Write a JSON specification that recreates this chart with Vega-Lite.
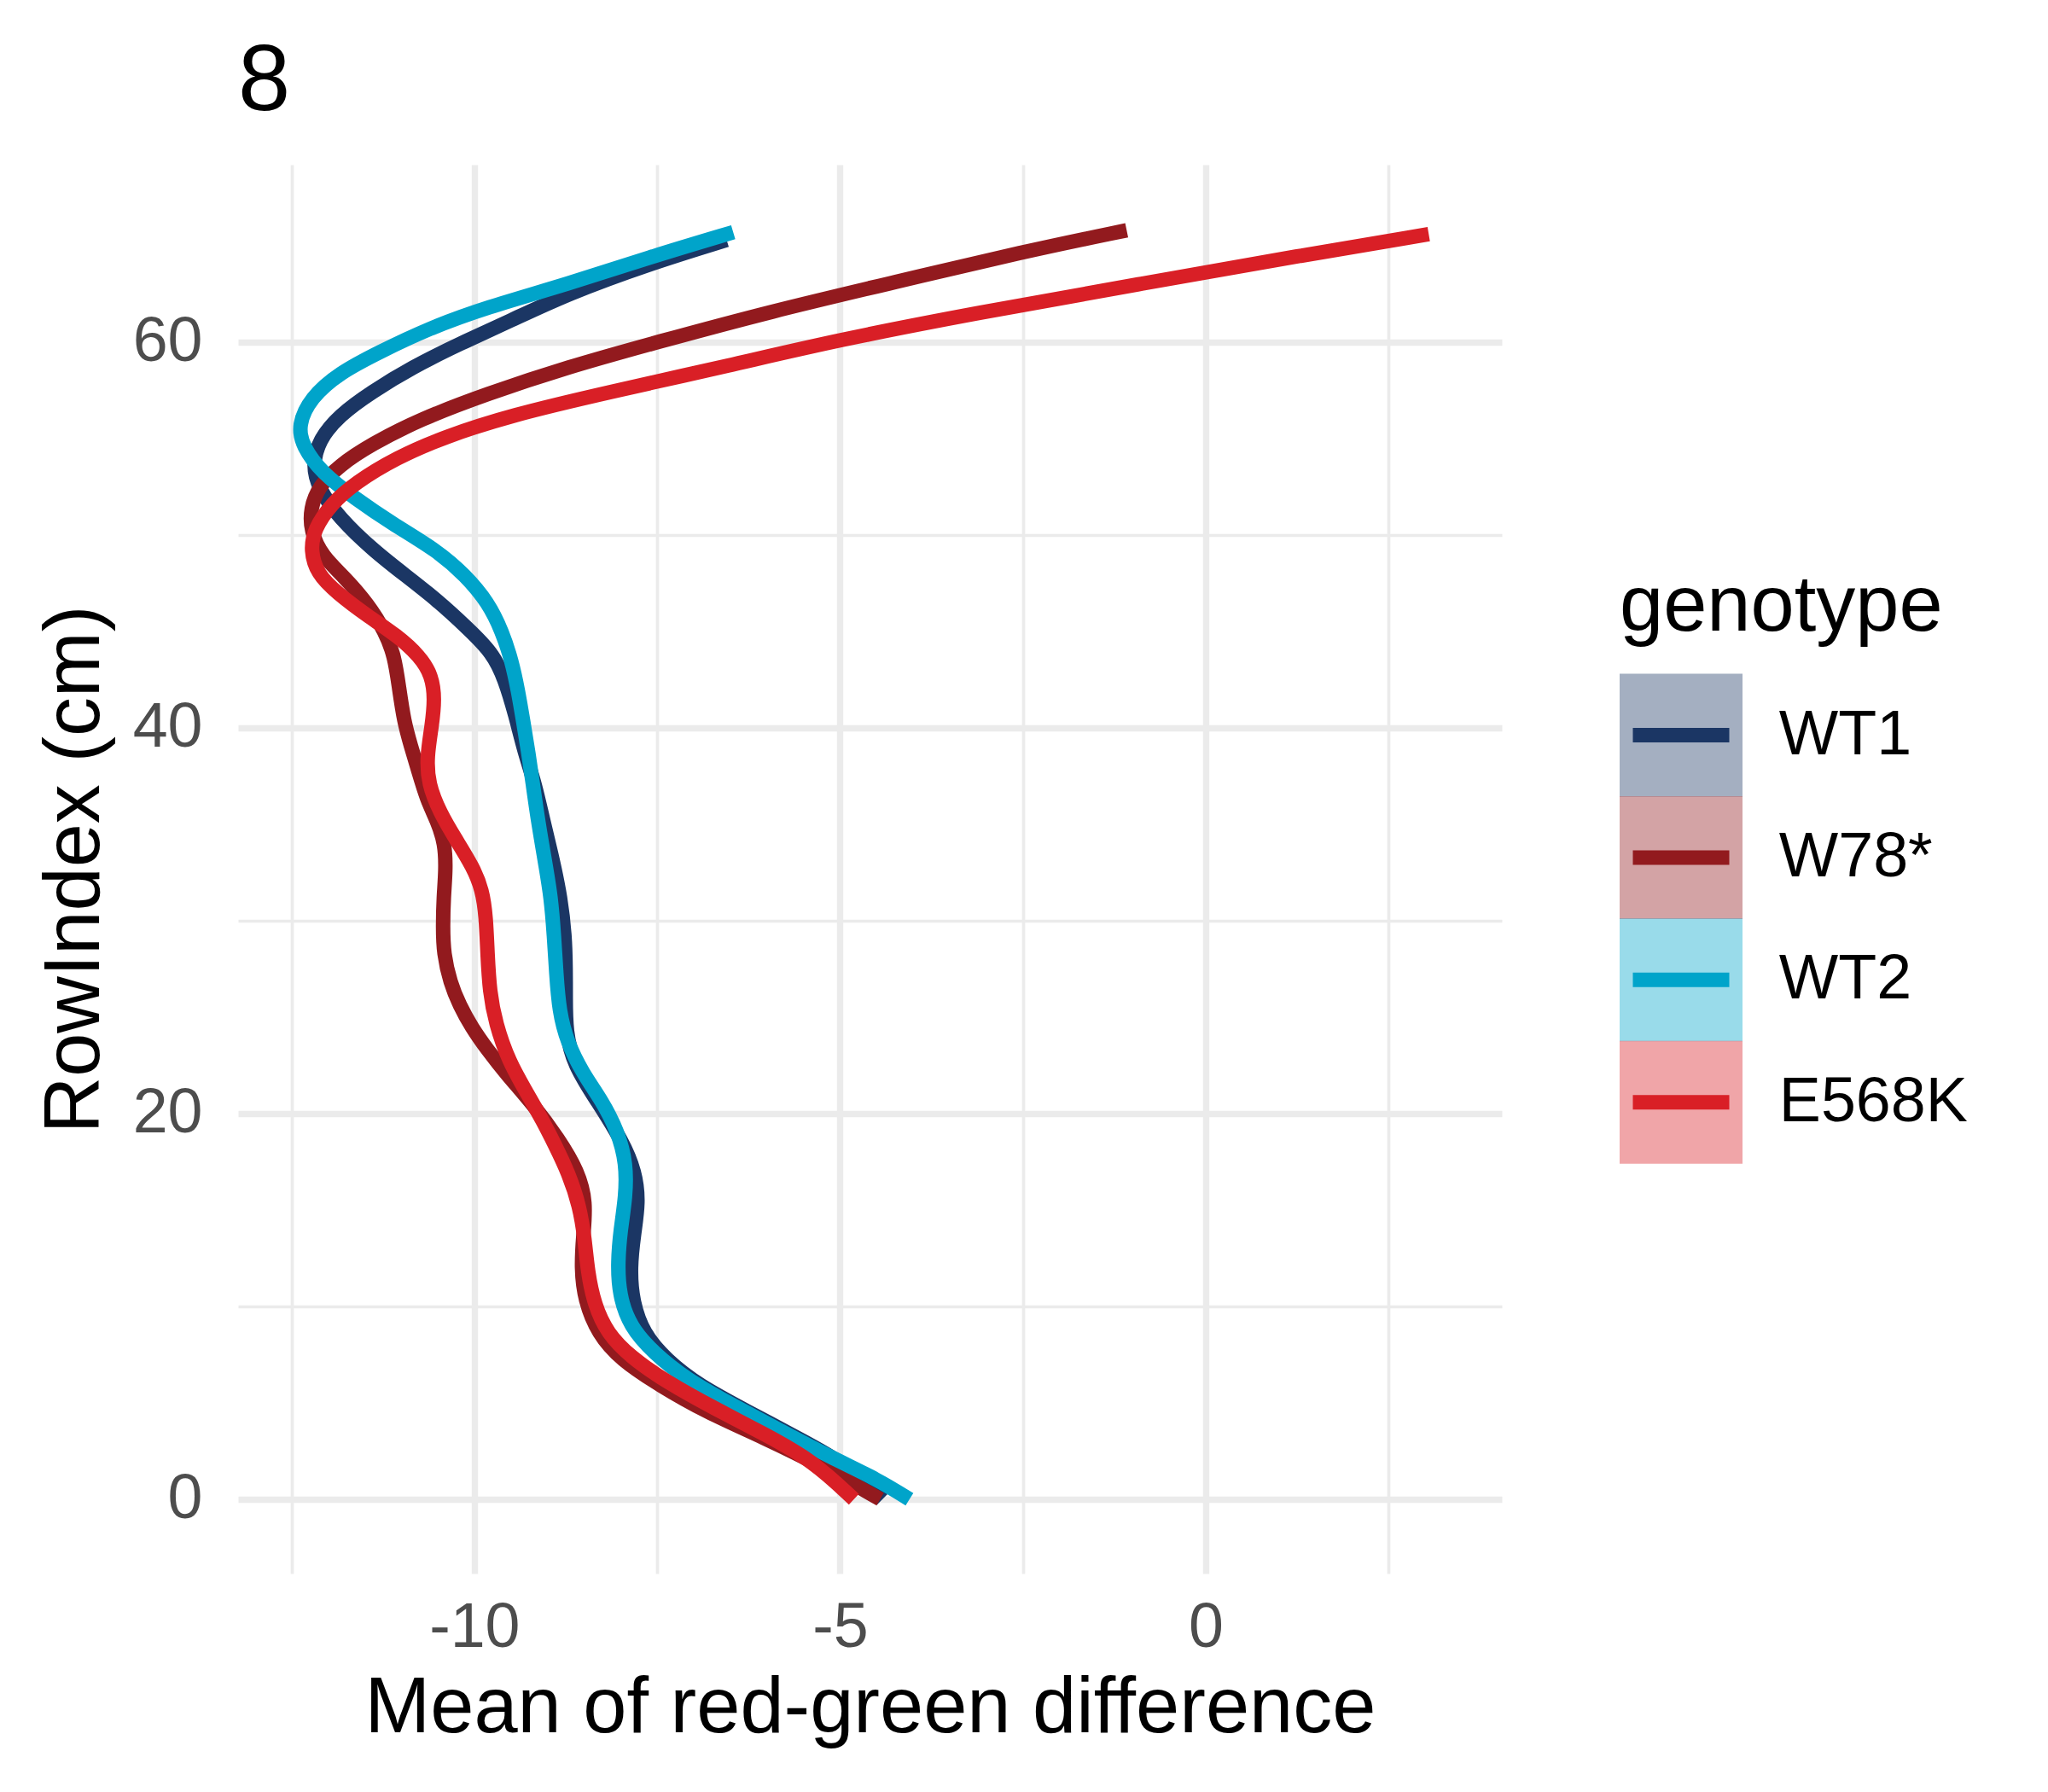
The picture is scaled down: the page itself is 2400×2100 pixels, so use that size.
{
  "$schema": "https://vega.github.io/schema/vega-lite/v6.json",
  "width": 1481,
  "height": 1651,
  "autosize": {"type": "none"},
  "padding": {"left": 279, "top": 193, "right": 640, "bottom": 256},
  "background": "white",
  "config": {"view": {"stroke": null}, "font": "Liberation Sans"},
  "title": {"text": "8", "anchor": "start", "frame": "group", "fontSize": 110, "fontWeight": "normal", "color": "black", "font": "Liberation Sans", "baseline": "bottom", "offset": -69},
  "datasets": {
    "curves": [
      {"genotype":"WT1","RowIndex":0,"mean_diff":-4.42},{"genotype":"WT1","RowIndex":1.85,"mean_diff":-4.92},{"genotype":"WT1","RowIndex":3.2,"mean_diff":-5.59},{"genotype":"WT1","RowIndex":4.55,"mean_diff":-6.26},{"genotype":"WT1","RowIndex":5.9,"mean_diff":-6.93},{"genotype":"WT1","RowIndex":7.25,"mean_diff":-7.38},{"genotype":"WT1","RowIndex":8.6,"mean_diff":-7.69},{"genotype":"WT1","RowIndex":10.3,"mean_diff":-7.84},{"genotype":"WT1","RowIndex":12,"mean_diff":-7.87},{"genotype":"WT1","RowIndex":13.7,"mean_diff":-7.82},{"genotype":"WT1","RowIndex":15.4,"mean_diff":-7.75},{"genotype":"WT1","RowIndex":17,"mean_diff":-7.8},{"genotype":"WT1","RowIndex":18.6,"mean_diff":-7.98},{"genotype":"WT1","RowIndex":20.6,"mean_diff":-8.31},{"genotype":"WT1","RowIndex":22.5,"mean_diff":-8.64},{"genotype":"WT1","RowIndex":24.3,"mean_diff":-8.75},{"genotype":"WT1","RowIndex":26,"mean_diff":-8.75},{"genotype":"WT1","RowIndex":27.5,"mean_diff":-8.75},{"genotype":"WT1","RowIndex":29.2,"mean_diff":-8.76},{"genotype":"WT1","RowIndex":31.2,"mean_diff":-8.82},{"genotype":"WT1","RowIndex":33.2,"mean_diff":-8.93},{"genotype":"WT1","RowIndex":35.2,"mean_diff":-9.06},{"genotype":"WT1","RowIndex":37.1,"mean_diff":-9.17},{"genotype":"WT1","RowIndex":38.7,"mean_diff":-9.31},{"genotype":"WT1","RowIndex":40.7,"mean_diff":-9.44},{"genotype":"WT1","RowIndex":42.5,"mean_diff":-9.58},{"genotype":"WT1","RowIndex":43.9,"mean_diff":-9.75},{"genotype":"WT1","RowIndex":45.2,"mean_diff":-10.1},{"genotype":"WT1","RowIndex":46.6,"mean_diff":-10.5},{"genotype":"WT1","RowIndex":47.9,"mean_diff":-10.94},{"genotype":"WT1","RowIndex":49.2,"mean_diff":-11.38},{"genotype":"WT1","RowIndex":50.9,"mean_diff":-11.85},{"genotype":"WT1","RowIndex":52.4,"mean_diff":-12.13},{"genotype":"WT1","RowIndex":53.6,"mean_diff":-12.21},{"genotype":"WT1","RowIndex":54.9,"mean_diff":-12.13},{"genotype":"WT1","RowIndex":56.2,"mean_diff":-11.85},{"genotype":"WT1","RowIndex":57.4,"mean_diff":-11.41},{"genotype":"WT1","RowIndex":58.7,"mean_diff":-10.85},{"genotype":"WT1","RowIndex":59.95,"mean_diff":-10.18},{"genotype":"WT1","RowIndex":61.1,"mean_diff":-9.51},{"genotype":"WT1","RowIndex":62.5,"mean_diff":-8.73},{"genotype":"WT1","RowIndex":64.06,"mean_diff":-7.61},{"genotype":"WT1","RowIndex":65.3,"mean_diff":-6.55},
      {"genotype":"W78*","RowIndex":0,"mean_diff":-4.45},{"genotype":"W78*","RowIndex":1.7,"mean_diff":-5.23},{"genotype":"W78*","RowIndex":3.2,"mean_diff":-6.04},{"genotype":"W78*","RowIndex":4.55,"mean_diff":-6.84},{"genotype":"W78*","RowIndex":5.9,"mean_diff":-7.46},{"genotype":"W78*","RowIndex":7.25,"mean_diff":-8.0},{"genotype":"W78*","RowIndex":8.6,"mean_diff":-8.31},{"genotype":"W78*","RowIndex":10.3,"mean_diff":-8.49},{"genotype":"W78*","RowIndex":12,"mean_diff":-8.54},{"genotype":"W78*","RowIndex":13.7,"mean_diff":-8.51},{"genotype":"W78*","RowIndex":15.4,"mean_diff":-8.47},{"genotype":"W78*","RowIndex":17,"mean_diff":-8.58},{"genotype":"W78*","RowIndex":18.7,"mean_diff":-8.85},{"genotype":"W78*","RowIndex":20.5,"mean_diff":-9.2},{"genotype":"W78*","RowIndex":22,"mean_diff":-9.55},{"genotype":"W78*","RowIndex":23.3,"mean_diff":-9.82},{"genotype":"W78*","RowIndex":24.5,"mean_diff":-10.04},{"genotype":"W78*","RowIndex":25.6,"mean_diff":-10.2},{"genotype":"W78*","RowIndex":26.8,"mean_diff":-10.33},{"genotype":"W78*","RowIndex":28.3,"mean_diff":-10.42},{"genotype":"W78*","RowIndex":29.7,"mean_diff":-10.43},{"genotype":"W78*","RowIndex":31.2,"mean_diff":-10.42},{"genotype":"W78*","RowIndex":32.6,"mean_diff":-10.39},{"genotype":"W78*","RowIndex":34,"mean_diff":-10.4},{"genotype":"W78*","RowIndex":35.2,"mean_diff":-10.51},{"genotype":"W78*","RowIndex":36.3,"mean_diff":-10.65},{"genotype":"W78*","RowIndex":37.7,"mean_diff":-10.76},{"genotype":"W78*","RowIndex":39.1,"mean_diff":-10.87},{"genotype":"W78*","RowIndex":40.3,"mean_diff":-10.96},{"genotype":"W78*","RowIndex":42.1,"mean_diff":-11.03},{"genotype":"W78*","RowIndex":43.7,"mean_diff":-11.09},{"genotype":"W78*","RowIndex":45,"mean_diff":-11.22},{"genotype":"W78*","RowIndex":46.4,"mean_diff":-11.45},{"genotype":"W78*","RowIndex":47.8,"mean_diff":-11.77},{"genotype":"W78*","RowIndex":48.9,"mean_diff":-12.08},{"genotype":"W78*","RowIndex":50.2,"mean_diff":-12.24},{"genotype":"W78*","RowIndex":51.4,"mean_diff":-12.24},{"genotype":"W78*","RowIndex":52.5,"mean_diff":-12.13},{"genotype":"W78*","RowIndex":53.6,"mean_diff":-11.85},{"genotype":"W78*","RowIndex":54.7,"mean_diff":-11.41},{"genotype":"W78*","RowIndex":56,"mean_diff":-10.74},{"genotype":"W78*","RowIndex":57.3,"mean_diff":-9.84},{"genotype":"W78*","RowIndex":58.7,"mean_diff":-8.73},{"genotype":"W78*","RowIndex":60,"mean_diff":-7.5},{"genotype":"W78*","RowIndex":61.6,"mean_diff":-5.94},{"genotype":"W78*","RowIndex":63.1,"mean_diff":-4.26},{"genotype":"W78*","RowIndex":64.7,"mean_diff":-2.48},{"genotype":"W78*","RowIndex":65.8,"mean_diff":-1.08},
      {"genotype":"WT2","RowIndex":0,"mean_diff":-4.05},{"genotype":"WT2","RowIndex":1,"mean_diff":-4.47},{"genotype":"WT2","RowIndex":2.2,"mean_diff":-5.14},{"genotype":"WT2","RowIndex":3.55,"mean_diff":-5.81},{"genotype":"WT2","RowIndex":4.9,"mean_diff":-6.48},{"genotype":"WT2","RowIndex":6.25,"mean_diff":-7.11},{"genotype":"WT2","RowIndex":7.6,"mean_diff":-7.55},{"genotype":"WT2","RowIndex":8.95,"mean_diff":-7.87},{"genotype":"WT2","RowIndex":10.6,"mean_diff":-8.02},{"genotype":"WT2","RowIndex":12.3,"mean_diff":-8.04},{"genotype":"WT2","RowIndex":14,"mean_diff":-8.0},{"genotype":"WT2","RowIndex":15.7,"mean_diff":-7.93},{"genotype":"WT2","RowIndex":17.4,"mean_diff":-7.92},{"genotype":"WT2","RowIndex":19.1,"mean_diff":-8.04},{"genotype":"WT2","RowIndex":20.7,"mean_diff":-8.26},{"genotype":"WT2","RowIndex":22.1,"mean_diff":-8.52},{"genotype":"WT2","RowIndex":23.7,"mean_diff":-8.73},{"genotype":"WT2","RowIndex":25.3,"mean_diff":-8.84},{"genotype":"WT2","RowIndex":27.3,"mean_diff":-8.88},{"genotype":"WT2","RowIndex":29.2,"mean_diff":-8.91},{"genotype":"WT2","RowIndex":31.2,"mean_diff":-8.95},{"genotype":"WT2","RowIndex":33.2,"mean_diff":-9.04},{"genotype":"WT2","RowIndex":35.2,"mean_diff":-9.13},{"genotype":"WT2","RowIndex":37.1,"mean_diff":-9.2},{"genotype":"WT2","RowIndex":38.7,"mean_diff":-9.26},{"genotype":"WT2","RowIndex":40.3,"mean_diff":-9.33},{"genotype":"WT2","RowIndex":41.9,"mean_diff":-9.4},{"genotype":"WT2","RowIndex":43.5,"mean_diff":-9.49},{"genotype":"WT2","RowIndex":45,"mean_diff":-9.62},{"genotype":"WT2","RowIndex":46.5,"mean_diff":-9.81},{"genotype":"WT2","RowIndex":47.9,"mean_diff":-10.12},{"genotype":"WT2","RowIndex":49.2,"mean_diff":-10.51},{"genotype":"WT2","RowIndex":50.6,"mean_diff":-11.13},{"genotype":"WT2","RowIndex":51.9,"mean_diff":-11.63},{"genotype":"WT2","RowIndex":53.2,"mean_diff":-12.08},{"genotype":"WT2","RowIndex":54.6,"mean_diff":-12.35},{"genotype":"WT2","RowIndex":55.7,"mean_diff":-12.41},{"genotype":"WT2","RowIndex":57.1,"mean_diff":-12.24},{"genotype":"WT2","RowIndex":58.4,"mean_diff":-11.85},{"genotype":"WT2","RowIndex":59.5,"mean_diff":-11.29},{"genotype":"WT2","RowIndex":60.7,"mean_diff":-10.63},{"genotype":"WT2","RowIndex":61.8,"mean_diff":-9.84},{"genotype":"WT2","RowIndex":63,"mean_diff":-8.73},{"genotype":"WT2","RowIndex":64.4,"mean_diff":-7.61},{"genotype":"WT2","RowIndex":65.7,"mean_diff":-6.46},
      {"genotype":"E568K","RowIndex":0,"mean_diff":-4.81},{"genotype":"E568K","RowIndex":2,"mean_diff":-5.37},{"genotype":"E568K","RowIndex":3.4,"mean_diff":-6.04},{"genotype":"E568K","RowIndex":4.7,"mean_diff":-6.71},{"genotype":"E568K","RowIndex":6.1,"mean_diff":-7.38},{"genotype":"E568K","RowIndex":7.4,"mean_diff":-7.87},{"genotype":"E568K","RowIndex":8.6,"mean_diff":-8.18},{"genotype":"E568K","RowIndex":10.1,"mean_diff":-8.36},{"genotype":"E568K","RowIndex":11.8,"mean_diff":-8.45},{"genotype":"E568K","RowIndex":13.5,"mean_diff":-8.49},{"genotype":"E568K","RowIndex":15.2,"mean_diff":-8.56},{"genotype":"E568K","RowIndex":16.9,"mean_diff":-8.71},{"genotype":"E568K","RowIndex":18.4,"mean_diff":-8.9},{"genotype":"E568K","RowIndex":19.6,"mean_diff":-9.06},{"genotype":"E568K","RowIndex":21,"mean_diff":-9.27},{"genotype":"E568K","RowIndex":22.7,"mean_diff":-9.53},{"genotype":"E568K","RowIndex":24.7,"mean_diff":-9.71},{"genotype":"E568K","RowIndex":26.3,"mean_diff":-9.79},{"genotype":"E568K","RowIndex":28.3,"mean_diff":-9.82},{"genotype":"E568K","RowIndex":30.2,"mean_diff":-9.84},{"genotype":"E568K","RowIndex":31.6,"mean_diff":-9.89},{"genotype":"E568K","RowIndex":32.8,"mean_diff":-10.02},{"genotype":"E568K","RowIndex":34.2,"mean_diff":-10.25},{"genotype":"E568K","RowIndex":35.6,"mean_diff":-10.47},{"genotype":"E568K","RowIndex":37.1,"mean_diff":-10.63},{"genotype":"E568K","RowIndex":38.5,"mean_diff":-10.65},{"genotype":"E568K","RowIndex":40.1,"mean_diff":-10.58},{"genotype":"E568K","RowIndex":41.5,"mean_diff":-10.54},{"genotype":"E568K","RowIndex":42.7,"mean_diff":-10.58},{"genotype":"E568K","RowIndex":43.7,"mean_diff":-10.74},{"genotype":"E568K","RowIndex":44.8,"mean_diff":-11.06},{"genotype":"E568K","RowIndex":45.8,"mean_diff":-11.46},{"genotype":"E568K","RowIndex":47,"mean_diff":-11.88},{"genotype":"E568K","RowIndex":48,"mean_diff":-12.15},{"genotype":"E568K","RowIndex":49.2,"mean_diff":-12.24},{"genotype":"E568K","RowIndex":50.3,"mean_diff":-12.19},{"genotype":"E568K","RowIndex":51.6,"mean_diff":-11.96},{"genotype":"E568K","RowIndex":52.7,"mean_diff":-11.63},{"genotype":"E568K","RowIndex":54,"mean_diff":-11.07},{"genotype":"E568K","RowIndex":55.1,"mean_diff":-10.4},{"genotype":"E568K","RowIndex":56.2,"mean_diff":-9.51},{"genotype":"E568K","RowIndex":57.4,"mean_diff":-8.17},{"genotype":"E568K","RowIndex":58.8,"mean_diff":-6.5},{"genotype":"E568K","RowIndex":60.1,"mean_diff":-5.04},{"genotype":"E568K","RowIndex":61.5,"mean_diff":-3.15},{"genotype":"E568K","RowIndex":63,"mean_diff":-0.92},{"genotype":"E568K","RowIndex":64.5,"mean_diff":1.32},{"genotype":"E568K","RowIndex":65.6,"mean_diff":3.05}
    ]
  },
  "data": {"name": "curves"},
  "mark": {"type": "line", "interpolate": "basis", "strokeWidth": 17, "strokeCap": "butt", "strokeJoin": "round"},
  "encoding": {
    "x": {
      "field": "mean_diff", "type": "quantitative",
      "scale": {"domain": [-13.23, 4.05], "nice": false, "zero": false},
      "axis": {
        "values": [-12.5, -10, -7.5, -5, -2.5, 0, 2.5],
        "labelExpr": "datum.value % 5 === 0 ? '' + datum.value : ''",
        "grid": true, "gridColor": "#EBEBEB",
        "gridWidth": {"condition": {"test": "datum.value % 5 === 0", "value": 7.4}, "value": 3.7},
        "ticks": false, "domain": false,
        "labelFontSize": 73.6, "labelColor": "#4D4D4D", "labelFont": "Liberation Sans",
        "labelPadding": 27, "labelFlush": false, "labelOverlap": false, "labelLimit": 1000,
        "title": "Mean of red-green difference", "titleFontSize": 92, "titleFontWeight": "normal",
        "titleColor": "black", "titleFont": "Liberation Sans", "titlePadding": 13, "titleLimit": 3000
      }
    },
    "y": {
      "field": "RowIndex", "type": "quantitative",
      "scale": {"domain": [-3.85, 69.2], "nice": false, "zero": false},
      "axis": {
        "values": [0, 10, 20, 30, 40, 50, 60],
        "labelExpr": "datum.value % 20 === 0 ? '' + datum.value : ''",
        "grid": true, "gridColor": "#EBEBEB",
        "gridWidth": {"condition": {"test": "datum.value % 20 === 0", "value": 7.4}, "value": 3.7},
        "ticks": false, "domain": false,
        "labelFontSize": 73.6, "labelColor": "#4D4D4D", "labelFont": "Liberation Sans",
        "labelPadding": 42, "labelOverlap": false, "labelLimit": 1000,
        "title": "RowIndex (cm)", "titleFontSize": 92, "titleFontWeight": "normal",
        "titleColor": "black", "titleFont": "Liberation Sans", "titlePadding": 21, "titleLimit": 3000
      }
    },
    "order": {"field": "RowIndex", "type": "quantitative"},
    "stroke": {
      "field": "genotype", "type": "nominal",
      "scale": {"domain": ["WT1", "W78*", "WT2", "E568K"], "range": ["#1B3664", "#921A1E", "#00A4CA", "#D91F26"]},
      "legend": {
        "title": "genotype", "orient": "none", "legendX": 1619, "legendY": 473, "direction": "vertical",
        "titleFontSize": 92, "titleFont": "Liberation Sans", "titleFontWeight": "normal", "titleColor": "black",
        "titlePadding": 66.7, "titleLimit": 1000,
        "labelFontSize": 73.6, "labelFont": "Liberation Sans", "labelColor": "black", "labelOffset": 78, "labelLimit": 1000,
        "symbolType": "M-2.26,0L2.88,0L2.88,2.88L-2.88,2.88L-2.88,-2.88L2.88,-2.88L2.88,0Z",
        "symbolSize": 2500, "symbolStrokeWidth": 17, "symbolDash": [113, 10000], "symbolOffset": 35.2,
        "rowPadding": -18.6, "padding": 0,
        "encode": {"symbols": {"update": {"fill": {"scale": "stroke", "field": "value"}, "fillOpacity": {"value": 0.4}, "strokeOpacity": {"value": 1}, "opacity": {"value": 1}, "strokeJoin": {"value": "round"}}}}
      }
    }
  }
}
